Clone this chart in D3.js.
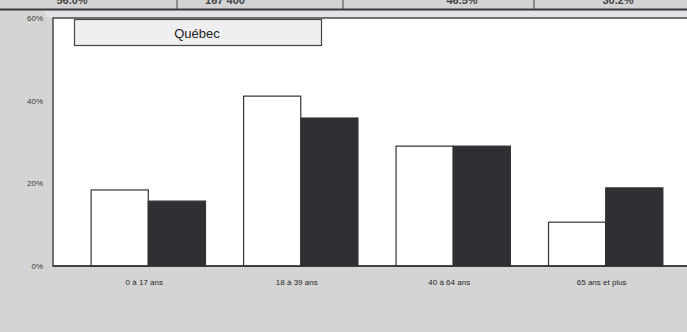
<!DOCTYPE html>
<html>
<head>
<meta charset="utf-8">
<script src="https://cdn.jsdelivr.net/npm/d3@7/dist/d3.min.js"></script>
<style>
  html, body { margin: 0; padding: 0; background: #d5d5d5; }
  svg { display: block; }
</style>
</head>
<body>
<svg id="chart" width="687" height="332"></svg>
<script>
// Age groups and the two series (percent of population)
const categories = ["0 à 17 ans", "18 à 39 ans", "40 à 64 ans", "65 ans et plus"];
const seriesNames = ["s1", "s2"];
const seriesA = [18.4, 41.1, 29.0, 10.6];
const seriesB = [15.7, 35.8, 29.0, 18.9];
const yTicks = [0, 20, 40, 60];
const headerCells = ["56.0%", "167 400", "46.5%", "30.2%"];
const panelTitle = "Québec";

const svg = d3.select("#chart");
const W = 687, H = 332;
const margin = { left: 53, top: 18, bottom: 266, right: 701 };

// scanned page background
svg.append("rect").attr("width", W).attr("height", H).attr("fill", "#d4d4d4");

// header row of the table above the chart (mostly cut off by the page edge)
const headerX = [72, 225, 462, 618];
const dividers = [177, 343, 534];
svg.append("g").selectAll("text").data(headerCells).join("text")
  .attr("x", (d, i) => headerX[i]).attr("y", 4)
  .attr("text-anchor", "middle")
  .attr("font-family", "Liberation Sans, Arial, sans-serif")
  .attr("font-size", 11).attr("font-weight", "bold").attr("fill", "#444")
  .text(d => d);
svg.append("g").selectAll("line").data(dividers).join("line")
  .attr("x1", d => d).attr("x2", d => d).attr("y1", 0).attr("y2", 10)
  .attr("stroke", "#444").attr("stroke-width", 1);
svg.append("line").attr("x1", 0).attr("x2", W).attr("y1", 9.5).attr("y2", 9.5)
  .attr("stroke", "#3a3a3a").attr("stroke-width", 2);
svg.append("rect").attr("x", 45).attr("y", 11).attr("width", W - 45).attr("height", 6)
  .attr("fill", "#e2e2e8");

// scales
const x = d3.scaleBand().domain(categories).range([margin.left, margin.right])
  .paddingInner(0.25).paddingOuter(0.25);
const xs = d3.scaleBand().domain(seriesNames).range([0, x.bandwidth()]);
const y = d3.scaleLinear().domain([0, 60]).range([margin.bottom, margin.top]);

// plot area
svg.append("rect").attr("x", margin.left).attr("y", margin.top)
  .attr("width", W - margin.left + 5).attr("height", margin.bottom - margin.top)
  .attr("fill", "#ffffff").attr("stroke", "#4a4a4a").attr("stroke-width", 1.5);

// bars
const rows = categories.map((c, i) => ({ c, vals: [seriesA[i], seriesB[i]] }));
const fills = ["#ffffff", "#2f2f34"];
const g = svg.append("g").selectAll("g").data(rows).join("g")
  .attr("transform", d => `translate(${x(d.c)},0)`);
g.selectAll("rect").data(d => d.vals.map((v, k) => ({ v, k }))).join("rect")
  .attr("x", d => xs(seriesNames[d.k]))
  .attr("y", d => y(d.v))
  .attr("width", xs.bandwidth())
  .attr("height", d => y(0) - y(d.v))
  .attr("fill", d => fills[d.k])
  .attr("stroke", "#333").attr("stroke-width", 1.2);

// x axis line
svg.append("line").attr("x1", margin.left).attr("x2", W).attr("y1", y(0)).attr("y2", y(0))
  .attr("stroke", "#333").attr("stroke-width", 1.5);

// y axis labels
const yAxis = d3.axisLeft(y).tickValues(yTicks).tickFormat(d => d + "%").tickSize(0).tickPadding(10);
const ya = svg.append("g").attr("transform", `translate(${margin.left},0)`).call(yAxis);
ya.select(".domain").remove();
ya.selectAll("text").attr("font-family", "Liberation Sans, Arial, sans-serif")
  .attr("font-size", 8).attr("fill", "#3a3a3a");

// x axis labels
const xAxis = d3.axisBottom(x).tickSize(0).tickPadding(13);
const xa = svg.append("g").attr("transform", `translate(0,${y(0)})`).call(xAxis);
xa.select(".domain").remove();
xa.selectAll("text").attr("font-family", "Liberation Sans, Arial, sans-serif")
  .attr("font-size", 8).attr("fill", "#2a2a2a").attr("dx", -4);

// panel title box
svg.append("rect").attr("x", 74.5).attr("y", 19.5).attr("width", 247).attr("height", 26)
  .attr("fill", "#efeff1").attr("stroke", "#444").attr("stroke-width", 1.2);
svg.append("text").attr("x", 197).attr("y", 37.5).attr("text-anchor", "middle")
  .attr("font-family", "Liberation Sans, Arial, sans-serif")
  .attr("font-size", 13).attr("fill", "#222").text(panelTitle);
</script>
</body>
</html>
